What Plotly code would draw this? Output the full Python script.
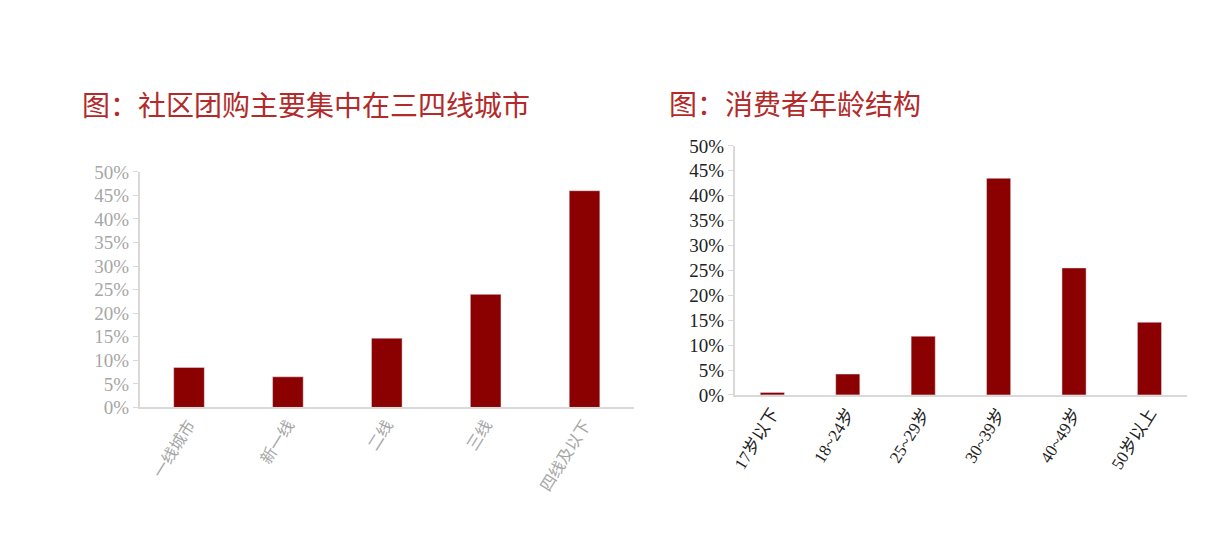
import plotly.graph_objects as go

# left chart: city tier share
city_tiers = ["一线城市", "新一线", "二线", "三线", "四线及以下"]
city_share = [0.085, 0.065, 0.147, 0.240, 0.460]

# right chart: consumer age structure
age_groups = ["17岁以下", "18~24岁", "25~29岁", "30~39岁", "40~49岁", "50岁以上"]
age_share = [0.005, 0.042, 0.118, 0.435, 0.255, 0.146]

y_ticks = [0, 0.05, 0.10, 0.15, 0.20, 0.25, 0.30, 0.35, 0.40, 0.45, 0.50]

BAR = "#8b0000"
TITLE_RED = "#b22a2a"
SERIF = "Liberation Serif, Noto Sans CJK SC, serif"
W, H = 1230, 546


def px_x(v):
    return v / W


def px_y(v):
    return 1 - v / H


fig = go.Figure()
fig.add_trace(go.Bar(x=city_tiers, y=city_share, marker_color=BAR,
                     xaxis="x", yaxis="y", showlegend=False, width=0.31))
fig.add_trace(go.Bar(x=age_groups, y=age_share, marker_color=BAR,
                     xaxis="x2", yaxis="y2", showlegend=False, width=0.32))

axis_line = dict(showline=True, linecolor="#d9d9d9", linewidth=1.5,
                 showgrid=False, zeroline=False)

fig.update_layout(
    width=W, height=H,
    margin=dict(l=0, r=0, t=0, b=0),
    paper_bgcolor="white", plot_bgcolor="white",
    xaxis=dict(domain=[px_x(128), px_x(624)], anchor="y", tickangle=-58,
               tickfont=dict(family=SERIF, size=16, color="#a6a6a6"),
               ticks="", **axis_line),
    yaxis=dict(domain=[px_y(405), px_y(160)], anchor="x",
               range=[0, 0.5], tickvals=y_ticks, tickformat=".0%",
               ticks="outside", ticklen=5, tickcolor="#d9d9d9",
               tickfont=dict(family=SERIF, size=19, color="#a6a6a6"),
               **axis_line),
    xaxis2=dict(domain=[px_x(725), px_x(1179)], anchor="y2", tickangle=-58,
                tickfont=dict(family=SERIF, size=17, color="#222222"),
                ticks="", **axis_line),
    yaxis2=dict(domain=[px_y(392), px_y(133)], anchor="x2",
                range=[0, 0.5], tickvals=y_ticks, tickformat=".0%",
                ticks="outside", ticklen=5, tickcolor="#d9d9d9",
                tickfont=dict(family=SERIF, size=19, color="#222222"),
                **axis_line),
    annotations=[
        dict(text="图：社区团购主要集中在三四线城市", x=px_x(68), y=px_y(89),
             xref="paper", yref="paper", xanchor="left", yanchor="middle",
             showarrow=False,
             font=dict(family="Noto Sans CJK SC", size=28, color=TITLE_RED)),
        dict(text="图：消费者年龄结构", x=px_x(657), y=px_y(88),
             xref="paper", yref="paper", xanchor="left", yanchor="middle",
             showarrow=False,
             font=dict(family="Noto Sans CJK SC", size=28, color=TITLE_RED)),
    ],
)

fig.write_html("out.html")
